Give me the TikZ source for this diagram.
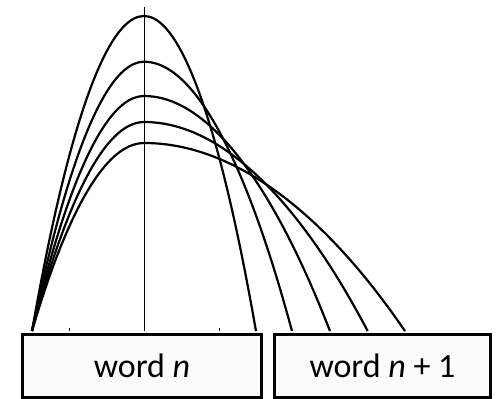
\documentclass[tikz,border=0pt]{standalone}
\usepackage{fontspec}
\setmainfont{Carlito}
\begin{document}
\begin{tikzpicture}[x=1pt,y=-1pt,
  curve/.style={line width=2.2pt},
  axisline/.style={line width=0.8pt},
  wordbox/.style={draw,line width=3pt,fill=black!1.5,minimum height=63pt,inner sep=0pt,font=\fontsize{34}{40}\selectfont}]
\useasboundingbox (0,0) rectangle (496,399);
\coordinate (s) at (32,331);
\coordinate (top) at (144,7);
\coordinate (bot) at (144,331);
\draw[axisline] (top) -- (bot);
\coordinate (t1a) at (69,328); \coordinate (t1b) at (69,331);
\coordinate (t2a) at (219,328); \coordinate (t2b) at (219,331);
\draw[line width=0.6pt] (t1a) -- (t1b) (t2a) -- (t2b);
\foreach \py/\ex in {16/256, 61.7/292, 96/330, 122/367.7, 143/405}{
  \draw[curve] (s) parabola bend (144,\py) (\ex,331);
}
\node[wordbox,minimum width=239pt] (w1) at (142,366) {word \textit{n}};
\node[wordbox,minimum width=216pt] (w2) at (382.5,366) {word \textit{n} + 1};
\end{tikzpicture}
\end{document}
